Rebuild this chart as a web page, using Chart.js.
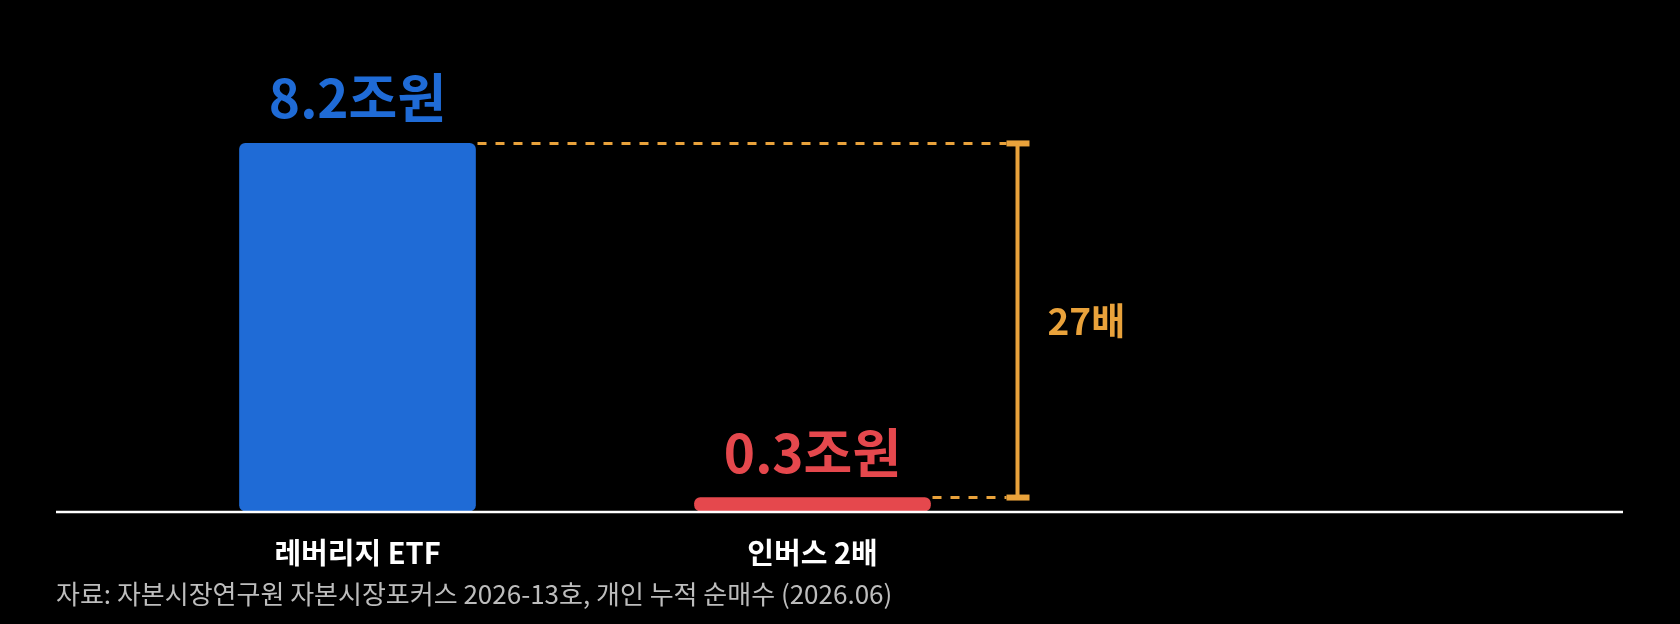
<!DOCTYPE html>
<html>
<head>
<meta charset="utf-8">
<script src="https://cdn.jsdelivr.net/npm/chart.js@4.4.1/dist/chart.umd.min.js"></script>
<style>
  html, body { margin: 0; padding: 0; background: #000; }
  #wrap { width: 1680px; height: 624px; }
</style>
</head>
<body>
<div id="wrap"><canvas id="ratioChart"></canvas></div>
<script>
// data
const categories = ['레버리지 ETF', '인버스 2배'];
const netBuy = [8.2, 0.3];            // 조원
const valueLabels = ['8.2조원', '0.3조원'];
const barColors = ['#1F6BD6', '#E5484D'];
const ratioLabel = '27배';
const sourceText = '자료: 자본시장연구원 자본시장포커스 2026-13호, 개인 누적 순매수 (2026.06)';

const FONT = '"Noto Sans CJK KR", "Noto Sans", sans-serif';
const ORANGE = '#E9A23B';

// labels, bracket, baseline and source line
const extras = {
    id: 'extras',
    afterDatasetsDraw(chart) {
        const ctx = chart.ctx;
        const bars = chart.getDatasetMeta(0).data;
        const y = chart.scales.y;
        const zeroY = y.getPixelForValue(0);

        ctx.save();

        // value labels above the bars
        ctx.textAlign = 'center';
        ctx.textBaseline = 'alphabetic';
        ctx.font = 'bold 53px ' + FONT;
        bars.forEach((bar, i) => {
            ctx.fillStyle = barColors[i];
            ctx.fillText(valueLabels[i], bar.x, bar.y - 25);
        });

        // dashed guides + bracket
        const big = bars[0], small = bars[1];
        const bx = small.x + small.width / 2 + 87;
        ctx.strokeStyle = ORANGE;
        ctx.lineWidth = 3;
        ctx.setLineDash([9, 9]);
        ctx.beginPath();
        ctx.moveTo(big.x + big.width / 2 + 2, big.y);
        ctx.lineTo(bx - 11, big.y);
        ctx.moveTo(small.x + small.width / 2 + 2, small.y);
        ctx.lineTo(bx - 11, small.y);
        ctx.stroke();
        ctx.setLineDash([]);

        ctx.lineWidth = 4;
        ctx.beginPath();
        ctx.moveTo(bx, big.y);
        ctx.lineTo(bx, small.y);
        ctx.stroke();
        ctx.fillStyle = ORANGE;
        ctx.fillRect(bx - 11, big.y - 3, 23, 6);
        ctx.fillRect(bx - 11, small.y - 3, 23, 6);

        ctx.textAlign = 'left';
        ctx.textBaseline = 'middle';
        ctx.font = 'bold 37px ' + FONT;
        ctx.fillText(ratioLabel, bx + 30, (big.y + small.y) / 2);

        // baseline
        ctx.strokeStyle = '#FFFFFF';
        ctx.lineWidth = 2.5;
        ctx.beginPath();
        ctx.moveTo(56, zeroY + 1);
        ctx.lineTo(1623, zeroY + 1);
        ctx.stroke();

        // source
        ctx.fillStyle = '#BDBDBD';
        ctx.font = '26px ' + FONT;
        ctx.textBaseline = 'middle';
        ctx.fillText(sourceText, 56, 594);

        ctx.restore();
    }
};

const ctx = document.getElementById('ratioChart').getContext('2d');

new Chart(ctx, {
    type: 'bar',
    data: {
        labels: categories,
        datasets: [{
            data: netBuy,
            backgroundColor: barColors,
            borderRadius: 6,
            borderSkipped: false,
            barThickness: 236,
        }]
    },
    options: {
        responsive: true,
        maintainAspectRatio: false,
        animation: false,
        layout: {
            padding: { left: 130, right: 640, top: 0, bottom: 0 }
        },
        plugins: {
            legend: { display: false },
            tooltip: { enabled: false },
        },
        scales: {
            x: {
                grid: { display: false, drawTicks: false },
                border: { display: false },
                ticks: {
                    color: '#FFFFFF',
                    font: { family: FONT, size: 29, weight: 'bold' },
                    padding: 25,
                },
                afterFit(scale) { scale.height = 113; },
            },
            y: {
                display: false,
                min: 0,
                max: 11.4,
            },
        },
    },
    plugins: [extras],
});
</script>
</body>
</html>
